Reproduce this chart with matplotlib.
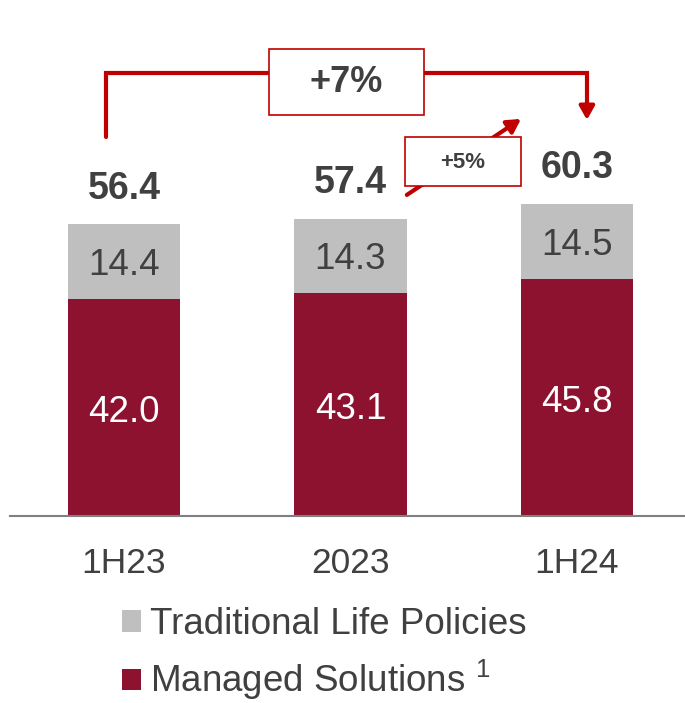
import numpy as np
import matplotlib.pyplot as plt
from matplotlib.patches import Rectangle

plt.rcParams['font.family'] = ['Liberation Sans', 'DejaVu Sans']
plt.rcParams['mathtext.fontset'] = 'custom'
plt.rcParams['mathtext.rm'] = 'Liberation Sans'

periods = ["1H23", "2023", "1H24"]
managed = [42.0, 43.1, 45.8]
traditional = [14.4, 14.3, 14.5]
totals = [56.4, 57.4, 60.3]
growth_total = "+7%"
growth_half = "+5%"

RED = "#8C1230"
GREY = "#BFBFBF"
ARROW = "#C00000"
TXT = "#404040"

fig = plt.figure(figsize=(6.85, 7.03), dpi=100)
ax = fig.add_axes([10/685, 187/703, 675/685, 516/703])

x = np.arange(len(periods))
b1 = ax.bar(x, managed, width=0.495, color=RED, label="Managed Solutions $^{1}$")
b2 = ax.bar(x, traditional, width=0.495, bottom=managed, color=GREY,
            label="Traditional Life Policies")

# segment values and totals
for i in range(len(x)):
    ax.annotate(f"{managed[i]:.1f}", (x[i], managed[i] / 2), xytext=(0, -3.5),
                textcoords='offset points', ha='center', va='center',
                color='white', fontsize=26.5)
    ax.annotate(f"{traditional[i]:.1f}", (x[i], managed[i] + traditional[i] / 2),
                xytext=(0, -2.5), textcoords='offset points',
                ha='center', va='center', color=TXT, fontsize=26.5)
    ax.annotate(f"{totals[i]:.1f}", (x[i], totals[i]), xytext=(0, 25.8),
                textcoords='offset points', ha='center', va='center',
                color=TXT, fontsize=27, fontweight='bold')

ax.set_xlim(-0.503, 2.477)
ax.set_ylim(0, 99.8)
ax.set_xticks(x)
ax.set_xticklabels(periods, fontsize=25.5, color=TXT)
ax.tick_params(axis='x', length=0, pad=22.5)
ax.set_yticks([])
for s in ['top', 'left', 'right']:
    ax.spines[s].set_visible(False)
ax.spines['bottom'].set_color('#808080')
ax.spines['bottom'].set_linewidth(1.5)

# bracket from 1H23 to 1H24
ax.plot([-0.079, -0.079, 2.044, 2.044], [73.3, 85.7, 85.7, 79.5],
        color=ARROW, lw=3, solid_capstyle='round', solid_joinstyle='miter')
ax.annotate("", xy=(2.044, 76.6), xytext=(2.044, 80.0),
            arrowprops=dict(arrowstyle='-|>,head_length=0.8,head_width=0.45',
                            color=ARROW, lw=3, shrinkA=0, shrinkB=0))
ax.add_patch(Rectangle((0.640, 77.5), 0.685, 12.8, facecolor='white',
                       edgecolor=ARROW, lw=1.2, zorder=3))
ax.text(0.983, 83.9, growth_total, ha='center', va='center', color=TXT,
        fontsize=26, fontweight='bold', zorder=4)

# 2023 -> 1H24 arrow
ax.annotate("", xy=(1.753, 76.8), xytext=(1.249, 62.1),
            arrowprops=dict(arrowstyle='-|>,head_length=0.8,head_width=0.45',
                            color=ARROW, lw=3, shrinkA=0, shrinkB=0,
                            capstyle='round'))
ax.add_patch(Rectangle((1.241, 63.8), 0.512, 9.5, facecolor='white',
                       edgecolor=ARROW, lw=1.2, zorder=3))
ax.text(1.497, 68.4, growth_half, ha='center', va='center', color=TXT,
        fontsize=16, fontweight='bold', zorder=4)

leg = fig.legend(handles=[b2, b1], loc='upper left',
                 bbox_to_anchor=(122/685, 1 - 607/703), frameon=False,
                 fontsize=26.5, handlelength=0.52, handleheight=0.52,
                 handletextpad=0.25, labelspacing=0.42, borderpad=0,
                 borderaxespad=0)
for t in leg.get_texts():
    t.set_color(TXT)

fig.savefig("out.png", dpi=100)
